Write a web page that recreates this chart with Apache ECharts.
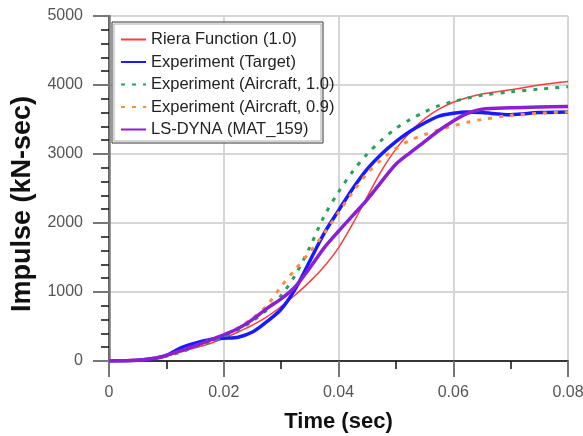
<!DOCTYPE html>
<html>
<head>
<meta charset="utf-8">
<script src="https://cdn.jsdelivr.net/npm/echarts@6/dist/echarts.min.js"></script>
<style>
  html, body { margin: 0; padding: 0; background: #fff; }
  #chart { width: 583px; height: 436px; }
</style>
</head>
<body>
<div id="chart"></div>
<script>
// 时间 (sec)
var time = [0, 0.005, 0.008, 0.01, 0.0125, 0.015, 0.0175, 0.02, 0.0225, 0.025, 0.0275, 0.03, 0.0325, 0.035,
            0.0375, 0.04, 0.0425, 0.045, 0.0475, 0.05, 0.0525, 0.055, 0.0575, 0.06, 0.0625, 0.065, 0.07, 0.075, 0.08];

// impulse (kN-sec)
var riera    = [0, 10, 40, 70, 130, 190, 250, 330, 420, 520, 640, 790, 960, 1150, 1370, 1640, 1990, 2380,
                2760, 3070, 3320, 3510, 3650, 3750, 3820, 3870, 3930, 4000, 4050];
var target   = [0, 10, 40, 80, 190, 260, 310, 330, 345, 420, 570, 750, 1050, 1450, 1850, 2180, 2500, 2780,
                3000, 3180, 3330, 3450, 3550, 3590, 3610, 3600, 3570, 3600, 3610];
var air10    = [0, 10, 40, 70, 130, 200, 270, 350, 450, 580, 740, 950, 1250, 1650, 2100, 2450, 2750, 3000,
                3200, 3370, 3500, 3610, 3700, 3760, 3810, 3850, 3900, 3940, 3975];
var air09    = [0, 15, 45, 80, 150, 220, 300, 380, 480, 620, 800, 1080, 1330, 1580, 1850, 2150, 2450, 2720,
                2920, 3080, 3200, 3280, 3350, 3410, 3460, 3500, 3560, 3590, 3610];
var lsdyna   = [0, 10, 40, 80, 150, 220, 300, 380, 470, 600, 760, 900, 1080, 1350, 1640, 1880, 2110, 2340,
                2600, 2850, 3020, 3180, 3340, 3480, 3590, 3650, 3670, 3680, 3690];

var names = ['Riera Function (1.0)', 'Experiment (Target)', 'Experiment (Aircraft, 1.0)',
             'Experiment (Aircraft, 0.9)', 'LS-DYNA (MAT_159)'];

function pairs(vals) {
    var out = [];
    for (var i = 0; i < time.length; i++) {
        out.push([time[i], vals[i]]);
    }
    return out;
}

function makeLine(name, vals, color, width, type) {
    return {
        name: name,
        type: 'line',
        data: pairs(vals),
        smooth: 0.3,
        symbol: 'none',
        lineStyle: { color: color, width: width, type: type || 'solid' },
        itemStyle: { color: color }
    };
}

var font = 'Arial, "Liberation Sans", sans-serif';

var option = {
    animation: false,
    backgroundColor: '#fff',
    grid: { left: 109, right: 15, top: 16, bottom: 75, outerBoundsMode: 'none' },
    //图例外框单独画,文字可以超出框
    graphic: [{
        type: 'rect',
        z: 3,
        shape: { x: 112, y: 22, width: 211, height: 121 },
        style: { fill: '#fff', stroke: '#333', lineWidth: 1 }
    }, {
        type: 'rect',
        z: 3,
        shape: { x: 114, y: 24, width: 207, height: 117 },
        style: { fill: 'none', stroke: '#aaa', lineWidth: 1 }
    }],
    legend: {
        data: names,
        orient: 'vertical',
        left: 112,
        top: 22,
        padding: [9, 8, 8, 8],
        itemWidth: 25,
        itemHeight: 14,
        itemGap: 5.5,
        z: 5,
        itemStyle: { opacity: 0 },
        textStyle: { fontSize: 16.5, fontFamily: font, color: '#222' }
    },
    xAxis: [{
        type: 'value',
        min: 0,
        max: 0.08,
        interval: 0.02,
        name: 'Time (sec)',
        nameLocation: 'middle',
        nameGap: 50,
        nameTextStyle: { fontSize: 22, fontWeight: 'bold', fontFamily: font, color: '#111' },
        axisLine: { show: true, onZero: false, lineStyle: { color: '#000', width: 1.5 } },
        axisTick: { show: true, length: 16, lineStyle: { color: '#777', width: 2 } },
        minorTick: { show: true, splitNumber: 2, length: 8, lineStyle: { color: '#111', width: 1.5 } },
        axisLabel: {
            margin: 24, fontSize: 16, fontFamily: font, color: '#555',
            formatter: function (v) { return v === 0 ? '0' : v.toFixed(2); }
        },
        splitLine: { show: true, lineStyle: { color: '#d6d6d6', width: 2 } }
    }],
    yAxis: [{
        type: 'value',
        min: 0,
        max: 5000,
        interval: 1000,
        name: 'Impulse (kN-sec)',
        nameLocation: 'middle',
        nameGap: 72,
        nameTextStyle: {
            fontSize: 27, fontWeight: 'bold', fontFamily: font, color: '#111',
            padding: [0, 31, 0, 0]
        },
        axisLine: { show: true, onZero: false, lineStyle: { color: '#000', width: 1.5 } },
        axisTick: { show: true, length: 16, lineStyle: { color: '#777', width: 2 } },
        minorTick: { show: true, splitNumber: 5, length: 8, lineStyle: { color: '#111', width: 1.5 } },
        axisLabel: {
            margin: 26, fontSize: 16, fontFamily: font, color: '#555',
            formatter: function (v) { return String(v); }
        },
        splitLine: { show: true, lineStyle: { color: '#d6d6d6', width: 2 } }
    }, {
        type: 'value',
        position: 'right',
        min: 0,
        max: 5000,
        interval: 1000,
        axisLine: { show: true, lineStyle: { color: '#777', width: 2.5 } },
        axisTick: { show: false },
        axisLabel: { show: false },
        splitLine: { show: false }
    }],
    series: [
        makeLine(names[0], riera, '#ff3b3b', 1.5),
        makeLine(names[1], target, '#1a1aff', 3.5),
        makeLine(names[2], air10, '#25a259', 3, [4, 7]),
        makeLine(names[3], air09, '#ff8b3d', 3, [4, 7]),
        makeLine(names[4], lsdyna, '#8a1fd6', 3.5)
    ]
};

var myChart = echarts.init(document.getElementById('chart'));
myChart.setOption(option);
</script>
</body>
</html>
